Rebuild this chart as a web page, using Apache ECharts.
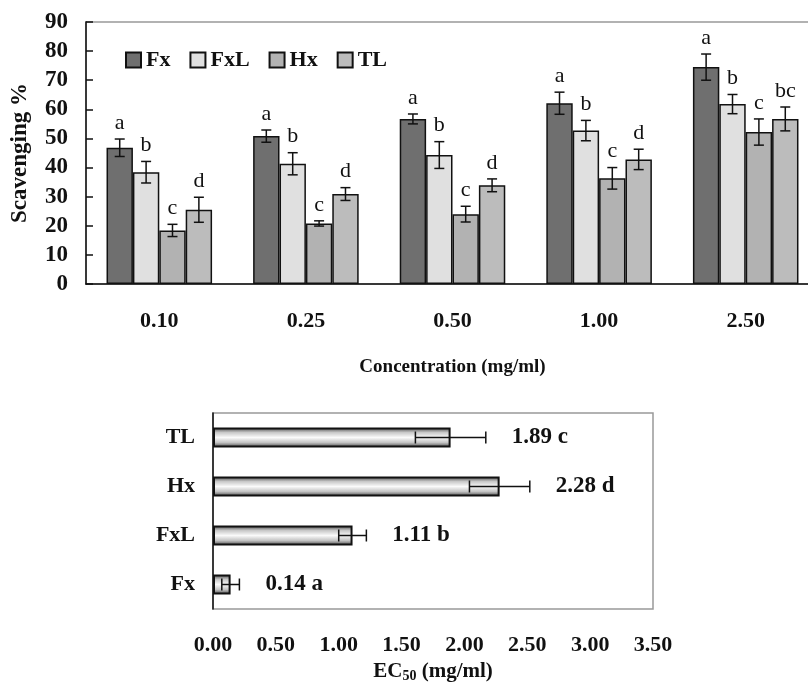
<!DOCTYPE html>
<html>
<head>
<meta charset="utf-8">
<script src="https://cdn.jsdelivr.net/npm/echarts@6/dist/echarts.min.js"></script>
<style>
  html, body { margin: 0; padding: 0; background: #fff; }
  #chart { width: 808px; height: 685px; }
</style>
</head>
<body>
<div id="chart"></div>
<script>
// top panel: scavenging % by concentration
const concentrations = ["0.10", "0.25", "0.50", "1.00", "2.50"];
const seriesNames = ["Fx", "FxL", "Hx", "TL"];
const fxValues = [46.8, 50.8, 56.7, 62.1, 74.5];
const fxlValues = [38.4, 41.3, 44.3, 52.7, 61.8];
const hxValues = [18.4, 20.8, 24.0, 36.3, 52.2];
const tlValues = [25.5, 30.9, 33.9, 42.8, 56.7];
const fxErr = [3.0, 2.1, 1.7, 3.8, 4.5];
const fxlErr = [3.7, 3.8, 4.6, 3.5, 3.3];
const hxErr = [2.1, 0.9, 2.7, 3.7, 4.5];
const tlErr = [4.3, 2.2, 2.2, 3.5, 4.1];
const groupLetters = [
  ["a", "b", "c", "d"],
  ["a", "b", "c", "d"],
  ["a", "b", "c", "d"],
  ["a", "b", "c", "d"],
  ["a", "b", "c", "bc"],
];
const yTicks = [0, 90, 10];

// bottom panel: EC50
const ecCategories = ["Fx", "FxL", "Hx", "TL"];
const ecValues = [0.14, 1.11, 2.28, 1.89];
const ecErr = [0.07, 0.11, 0.24, 0.28];
const ecLetters = ["a", "b", "d", "c"];
const ecTicks = [0, 3.5, 0.5];

const FONT = '"Liberation Serif", "Times New Roman", serif';
const barColors = ["#6f6f6f", "#e0e0e0", "#b2b2b2", "#bcbcbc"];
const allValues = [fxValues, fxlValues, hxValues, tlValues];
const allErr = [fxErr, fxlErr, hxErr, tlErr];

// flatten error bar data for the top panel: [cat, value, err, seriesIdx]
const errData = [];
const errLetters = [];
concentrations.forEach((c, ci) => {
  seriesNames.forEach((s, si) => {
    errData.push([ci, allValues[si][ci], allErr[si][ci], si]);
    errLetters.push(groupLetters[ci][si]);
  });
});

const chart = echarts.init(document.getElementById("chart"));

const barSeries = seriesNames.map((name, i) => ({
  name: name,
  type: "bar",
  xAxisIndex: 0,
  yAxisIndex: 0,
  data: allValues[i],
  barGap: "0%",
  barCategoryGap: "28%",
  itemStyle: { color: barColors[i], borderColor: "#111", borderWidth: 1.5 },
  emphasis: { disabled: true },
}));

const option = {
  animation: false,
  backgroundColor: "#fff",
  legend: {
    data: seriesNames,
    left: 120,
    top: 44,
    icon: "rect",
    itemWidth: 15,
    itemHeight: 15,
    itemGap: 19,
    textStyle: { fontFamily: FONT, fontWeight: "bold", fontSize: 22, color: "#111" },
  },
  grid: [
    // plot runs a little past the right edge of the picture
    { left: 86, top: 22, width: 733, bottom: 401, outerBoundsMode: "none", show: true, borderColor: "#999", borderWidth: 1.5 },
    { left: 213, top: 413, width: 440, height: 196, outerBoundsMode: "none", show: true, borderColor: "#999", borderWidth: 1.5 },
  ],
  xAxis: [
    {
      type: "category",
      gridIndex: 0,
      data: concentrations,
      name: "Concentration (mg/ml)",
      nameLocation: "middle",
      nameGap: 74,
      nameTextStyle: { fontFamily: FONT, fontWeight: "bold", fontSize: 19, color: "#111" },
      axisLine: { lineStyle: { color: "#111", width: 1.5 } },
      axisTick: { inside: true, length: 5, lineStyle: { color: "#ccc" } },
      axisLabel: { margin: 26, fontFamily: FONT, fontWeight: "bold", fontSize: 22, color: "#111" },
    },
    {
      type: "value",
      gridIndex: 1,
      min: ecTicks[0],
      max: ecTicks[1],
      interval: ecTicks[2],
      name: "EC{sub|50} (mg/ml)",
      nameLocation: "middle",
      nameGap: 52,
      nameTextStyle: {
        fontFamily: FONT, fontWeight: "bold", fontSize: 21, color: "#111",
        rich: { sub: { fontFamily: FONT, fontWeight: "bold", fontSize: 14, verticalAlign: "bottom", padding: [8, 0, 0, 0] } },
      },
      splitLine: { show: false },
      axisLine: { lineStyle: { color: "#111", width: 1.5 } },
      axisTick: { inside: true, length: 7, lineStyle: { color: "#111", width: 1.5 } },
      axisLabel: {
        margin: 25, fontFamily: FONT, fontWeight: "bold", fontSize: 22, color: "#111",
        formatter: (v) => v.toFixed(2),
      },
    },
  ],
  yAxis: [
    {
      type: "value",
      gridIndex: 0,
      min: yTicks[0],
      max: yTicks[1],
      interval: yTicks[2],
      name: "Scavenging %",
      nameLocation: "middle",
      nameRotate: 90,
      nameGap: 54,
      nameTextStyle: { fontFamily: FONT, fontWeight: "bold", fontSize: 23, color: "#111" },
      splitLine: { show: false },
      axisLine: { show: true, lineStyle: { color: "#111", width: 1.5 } },
      axisTick: { show: true, inside: true, length: 7, lineStyle: { color: "#111", width: 1.5 } },
      axisLabel: { margin: 18, fontFamily: FONT, fontWeight: "bold", fontSize: 23, color: "#111" },
    },
    {
      type: "category",
      gridIndex: 1,
      data: ecCategories,
      axisLine: { lineStyle: { color: "#111", width: 1.5 } },
      axisTick: { inside: true, length: 7, lineStyle: { color: "#111", width: 1.5 } },
      axisLabel: { margin: 18, fontFamily: FONT, fontWeight: "bold", fontSize: 22, color: "#111" },
    },
  ],
  series: [
    ...barSeries,
    {
      name: "errTop",
      type: "custom",
      xAxisIndex: 0,
      yAxisIndex: 0,
      z: 5,
      data: errData,
      encode: { x: 0, y: 1 },
      renderItem: (params, api) => {
        const ci = api.value(0);
        const v = api.value(1);
        const e = api.value(2);
        const si = api.value(3);
        const band = api.size([1, 0])[0];
        const bw = (band * 0.72) / 4;
        const cx = api.coord([ci, 0])[0] + (si - 1.5) * bw;
        const yHi = api.coord([ci, v + e])[1];
        const yLo = api.coord([ci, v - e])[1];
        const st = { stroke: "#111", lineWidth: 1.5 };
        return {
          type: "group",
          children: [
            { type: "line", shape: { x1: cx, y1: yHi, x2: cx, y2: yLo }, style: st },
            { type: "line", shape: { x1: cx - 5, y1: yHi, x2: cx + 5, y2: yHi }, style: st },
            { type: "line", shape: { x1: cx - 5, y1: yLo, x2: cx + 5, y2: yLo }, style: st },
            {
              type: "text",
              style: {
                text: errLetters[params.dataIndex],
                x: cx, y: yHi - 16,
                align: "center", verticalAlign: "middle",
                font: "22px " + FONT, fill: "#111",
              },
            },
          ],
        };
      },
    },
    {
      name: "EC50",
      type: "bar",
      xAxisIndex: 1,
      yAxisIndex: 1,
      data: ecValues,
      barWidth: 20,
      itemStyle: {
        borderColor: "#111",
        borderWidth: 2,
        color: {
          type: "linear", x: 0, y: 0, x2: 0, y2: 1,
          colorStops: [
            { offset: 0, color: "#444" },
            { offset: 0.25, color: "#c8c8c8" },
            { offset: 0.5, color: "#fafafa" },
            { offset: 0.75, color: "#c4c4c4" },
            { offset: 1, color: "#444" },
          ],
        },
      },
      emphasis: { disabled: true },
    },
    {
      name: "errEc",
      type: "custom",
      xAxisIndex: 1,
      yAxisIndex: 1,
      z: 5,
      data: ecValues.map((v, i) => [v, i, ecErr[i]]),
      encode: { x: 0, y: 1 },
      renderItem: (params, api) => {
        const v = api.value(0);
        const ci = api.value(1);
        const e = api.value(2);
        const y = api.coord([0, ci])[1];
        const xL = api.coord([v - e, ci])[0];
        const xR = api.coord([v + e, ci])[0];
        const st = { stroke: "#111", lineWidth: 1.5 };
        return {
          type: "group",
          children: [
            { type: "line", shape: { x1: xL, y1: y, x2: xR, y2: y }, style: st },
            { type: "line", shape: { x1: xL, y1: y - 6, x2: xL, y2: y + 6 }, style: st },
            { type: "line", shape: { x1: xR, y1: y - 6, x2: xR, y2: y + 6 }, style: st },
            {
              type: "text",
              style: {
                text: ecValues[params.dataIndex].toFixed(2) + " " + ecLetters[params.dataIndex],
                x: xR + 26, y: y,
                align: "left", verticalAlign: "middle",
                font: "bold 23px " + FONT, fill: "#111",
              },
            },
          ],
        };
      },
    },
  ],
};

chart.setOption(option);
</script>
</body>
</html>
